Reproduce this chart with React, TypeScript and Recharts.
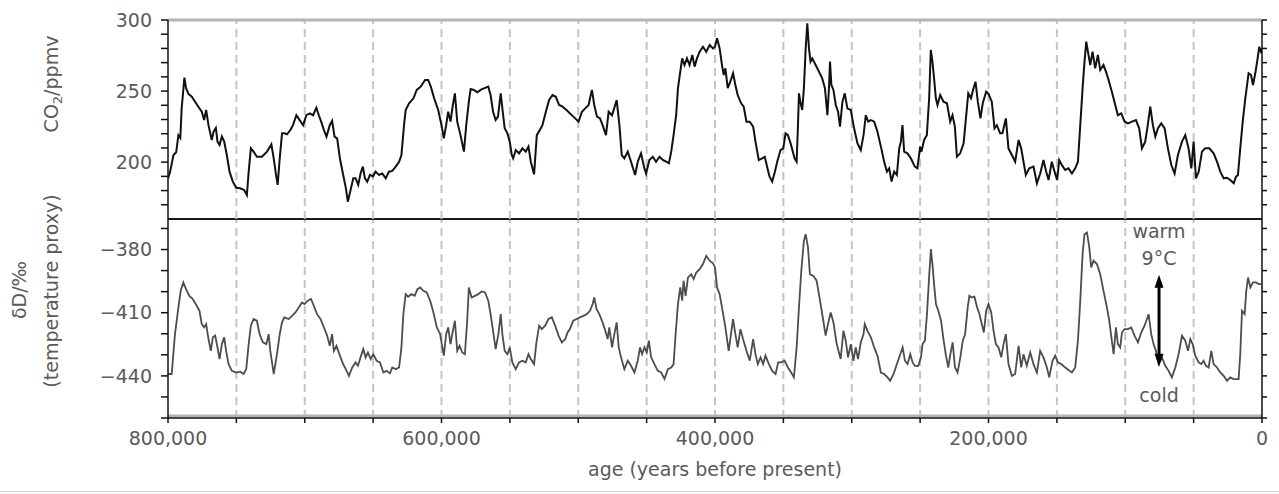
import React from 'react'
import { LineChart, Line, XAxis, YAxis, ReferenceLine } from 'recharts'

// EPICA Dome C: CO2 and deuterium over the last 800 kyr
const co2Age = [
  800, 798.5, 796, 794, 792.4, 791, 790, 788, 786.8, 785, 782.6, 780.2, 777.8, 775.3, 773.6, 772.1, 770.4, 768, 766.7, 765,
  763.8, 762.3, 760.6, 758.9, 757, 755, 752.6, 750.1, 747.2, 744.3, 742.3, 741, 739.4, 737.4, 735, 731.3, 727.6, 724.4, 722.7, 721,
  719.8, 718.3, 716.6, 714.9, 713, 710.5, 708.6, 706.1, 703.7, 701.2, 698.8, 696.3, 693.9, 691.5, 689.7, 688, 686, 684.1, 681.7, 680,
  678.2, 676.3, 674.3, 671.9, 669.9, 668.5, 666.5, 664.5, 662.8, 660.9, 659.2, 657.5, 656, 654.3, 652.3, 650.1, 648.2, 645.7, 643.3, 640.8,
  638.4, 636, 633.5, 631, 629.3, 627.4, 626.2, 623.7, 620.5, 618.1, 615.2, 612, 609.8, 607.8, 605.4, 602.4, 600, 598.3, 596.6, 595.1,
  593.4, 591.7, 590.2, 588.5, 586.1, 583.6, 581.9, 580, 578.7, 576.3, 573.8, 571.4, 569, 565.8, 564.1, 562.3, 560.4, 558.7, 556.7, 555.5,
  553.8, 551.8, 550.1, 548.6, 547.6, 545.7, 543.3, 540.8, 538.4, 536.4, 534.7, 532.3, 530.3, 528.1, 526.2, 523.7, 521.3, 518.8, 516.4, 514,
  511.5, 508.6, 505.4, 502.2, 499.8, 497.3, 494.9, 492.4, 491.4, 490, 488.3, 486.3, 484.1, 482.2, 479.7, 477.8, 475.3, 473.6, 471.9, 469.9,
  468.2, 466.3, 463.8, 461.4, 458.4, 456.5, 454.1, 451.6, 450.4, 448, 445.5, 443.1, 440.6, 438.2, 435.7, 433.7, 432, 430.3, 428.4, 427.1,
  425.4, 424, 422.3, 420.5, 418.6, 416.6, 414.9, 413.2, 411.2, 408.8, 406.4, 403.9, 401.5, 400, 398.5, 396.6, 394.9, 393.6, 392.4, 390.7,
  388.8, 386.8, 385.1, 383.4, 380.9, 379, 377, 374.6, 372.1, 370.4, 368, 365.5, 363.6, 361.9, 360.1, 358.2, 356.2, 354.5, 352.1, 350.1,
  348.4, 346.7, 344.7, 341.8, 340.3, 339.4, 338.6, 337.4, 336.2, 335, 333.7, 332.5, 331.3, 330.1, 328.9, 326.4, 324, 321.6, 319.6, 317.8,
  316.6, 315.9, 314.9, 313.4, 311.7, 310, 308.6, 306.8, 305.1, 303.2, 300.7, 298.3, 295.8, 293.4, 291.4, 289.7, 288, 286, 283.6, 281.2,
  278.7, 276.3, 274.3, 272.6, 270.9, 269, 267, 265.3, 264.1, 262.9, 261.7, 259.3, 256.8, 253.9, 252, 250, 249, 247.1, 245.1, 243.4,
  242.2, 241, 239.8, 238.5, 237.3, 235.3, 232.9, 230.4, 228, 226.3, 224.6, 223.1, 220.7, 218.2, 216.5, 214.8, 212.8, 211.3, 209.5, 207.8,
  205.9, 204.2, 201.7, 200, 197.6, 195.6, 193.9, 191.5, 189.8, 187.3, 185.4, 182.9, 180.5, 178, 176.1, 174.4, 172.7, 170.2, 167.1, 164.6,
  162.2, 159.8, 157.8, 156.1, 153.7, 151.7, 149.8, 148.3, 146.3, 143.9, 141.5, 139, 136.6, 134.6, 132.9, 131.2, 129.8, 128.5, 127.3, 125.6,
  123.9, 122, 120, 118.3, 115.9, 114.1, 112.2, 109.8, 107.3, 105.4, 102.9, 100.5, 98, 95.1, 92.2, 89.8, 87.8, 85.4, 83.7, 81.7,
  79.8, 78, 76.1, 73.7, 71.2, 68.8, 66.3, 63.9, 61.5, 58.5, 56.1, 53.7, 51.7, 50, 48.3, 46.3, 43.9, 41.5, 38.5, 35.4,
  32.9, 30.5, 28, 25.6, 23.2, 20.7, 19, 17.6, 15.9, 14.1, 12.2, 9.8, 8, 6.6, 4.9, 3.2, 2, 0.5, 0,
]
const co2Ppmv = [
  188.6, 193, 205, 207, 219, 217, 238, 259.4, 252, 248, 246, 242.5, 239, 235.5, 229.6, 236.7, 226, 215.6, 221.4, 224,
  214.4, 212, 218, 214.4, 205, 193.3, 186.3, 182, 181.6, 180.4, 176.9, 193.3, 209.7, 207.4, 203.8, 203.8, 207.4, 212.5, 202.7, 191,
  184, 202.7, 220.3, 220.3, 219.6, 222.6, 226, 233, 229.6, 226, 233, 234.3, 233, 238.3, 233, 228.5, 222.6, 218, 226, 229,
  218, 216.7, 202.7, 191, 181.6, 172.2, 180.4, 188.6, 188.6, 184, 192, 196.8, 188.6, 186.3, 191, 190, 193.3, 191, 192, 188.6,
  193.3, 193.8, 196.8, 200.3, 205, 226, 236.7, 241.4, 244.9, 250.8, 253.1, 257.8, 257.8, 253.1, 244.9, 236.7, 226, 216.7, 226, 235.5,
  228.5, 240.2, 248.4, 228.5, 219, 207.4, 226, 242.5, 251.5, 250.8, 249.1, 250.8, 251.9, 253.1, 247.2, 235.5, 229.6, 232, 248.4, 237.8,
  223.8, 220.3, 214.4, 205, 202.7, 208.5, 206.2, 209.7, 207.4, 210.9, 200.3, 191.4, 219, 222.6, 226, 235.5, 243.7, 247.2, 246, 240.2,
  239, 236.7, 233.6, 230.8, 228.5, 235.5, 237.8, 240.2, 244.9, 250.8, 240.2, 232, 230.8, 226, 219, 235.5, 233, 238.3, 243.7, 226,
  205, 202.7, 207.4, 200.3, 191, 200.3, 206.2, 195.6, 192, 201.5, 203.8, 200.3, 203.8, 201.5, 200.3, 199.2, 207.4, 219, 233, 251.9,
  263.7, 273, 268.3, 273, 268.3, 275.4, 267.2, 273, 277.7, 281.2, 277.7, 282.4, 280, 281.2, 287.1, 280, 268.3, 261.3, 266, 252,
  256.6, 262.5, 254.3, 247.2, 241.4, 239, 228.5, 228.5, 225, 214.4, 201.5, 202.7, 203.8, 196.8, 189.8, 186.3, 193.3, 200.3, 208.5, 209.7,
  220.3, 219, 213.2, 202.7, 200.3, 223.8, 248.4, 241.4, 236.7, 251.9, 280, 297.7, 280, 270.7, 273, 268.3, 263.7, 259, 251.9, 233,
  253.1, 270.7, 254.3, 250.8, 240.2, 235.5, 225, 242.5, 248.4, 237.8, 236.7, 223.8, 213.2, 208.5, 219, 233, 228.5, 229.6, 228.5, 221.4,
  210.9, 200.3, 193.3, 195.6, 186.3, 193.3, 191, 209.7, 214.4, 226, 207.4, 206.2, 202.7, 196.8, 195.6, 210.9, 207.4, 215.6, 219, 244.9,
  278.9, 270.7, 259, 244.9, 240.2, 247.2, 242.5, 241.4, 228.5, 233, 225, 203.8, 206.2, 213.2, 230.8, 248.4, 244.9, 250.8, 256.6, 242.5,
  230.8, 241.4, 249.6, 248, 242.5, 223.8, 226, 220.3, 220.3, 230.8, 209.7, 205, 200.3, 215.6, 209.7, 200.3, 191, 195.6, 196.8, 185.1,
  192, 201.5, 193.3, 187.4, 200.3, 193.3, 187.4, 201.5, 197.9, 194.5, 195.6, 192, 195.6, 200.3, 226, 251.9, 270.7, 284.8, 277.7, 268.3,
  277.7, 266, 275.4, 264.8, 268.3, 263.7, 257.8, 249.6, 240.2, 233, 234.3, 228.5, 227.3, 228.5, 229.6, 223.8, 209.7, 214.4, 225, 239,
  226, 218, 223.8, 227.3, 223.8, 209.7, 198, 192, 205, 214.4, 219, 209.7, 195.6, 214.4, 188.6, 193.3, 207.4, 209.7, 209.7, 206.2,
  200.3, 193.3, 188.6, 189, 187.4, 185.1, 189.8, 191, 209.7, 228.5, 244.9, 262.5, 261.3, 254.3, 262.5, 273, 281.2, 276.6, 280,
]

const dDAge = [
  800, 797.3, 794.9, 792.4, 790.7, 788.8, 786.8, 784.4, 781.9, 779, 777, 775.3, 773.6, 772.1, 770.4, 768.7, 767.2, 765.5, 763.8, 762.3,
  760.6, 758.9, 757.5, 755.7, 753.3, 750.1, 747.2, 744.7, 742.8, 741, 739.4, 737.4, 735, 733, 730.6, 728.1, 726.4, 725.2, 722.7, 720.3,
  718.3, 716.6, 714.9, 711.7, 709.3, 706.8, 704.4, 702, 700.2, 697.8, 695.4, 693.4, 691, 688.5, 686, 683.6, 681.7, 680, 678.7, 676.8,
  674.3, 671.9, 669.4, 667.7, 665.3, 662.8, 661.1, 659.2, 657.2, 655.5, 653.8, 651.8, 649.9, 647.4, 645, 642.5, 640.1, 637.7, 636, 633.5,
  631, 629.3, 627.9, 626.2, 624.4, 622, 619.6, 617.6, 615.6, 613.2, 610.8, 608.3, 605.9, 603.4, 601, 600, 598.3, 596.6, 595.1, 593.4,
  591.7, 590.2, 588.5, 586.8, 584.8, 582.9, 581.2, 580, 578, 575.6, 573.1, 570.7, 568.2, 565.8, 564.1, 562.3, 560.4, 558.4, 556.7, 555.5,
  553.8, 551.8, 550.1, 548.2, 545.7, 543.3, 540.8, 538.4, 536.4, 534.7, 532.3, 530.6, 528.6, 526.7, 524.2, 521.8, 519.3, 516.9, 514.4, 512,
  509.5, 507.8, 506.1, 503.7, 501.2, 498.8, 496.3, 493.9, 491.4, 489.5, 488.3, 486.6, 484.6, 482.2, 480.2, 478.5, 477.3, 475.3, 473.6, 471.9,
  470.4, 468.7, 466.3, 463.8, 461.4, 458.9, 456.5, 454.8, 453.3, 451.6, 449.9, 448.4, 446.7, 444.3, 441.8, 439.4, 436.9, 434.5, 432, 430.3,
  428.8, 427.1, 425.4, 424, 423, 421.5, 419.8, 417.4, 415.6, 413.7, 411.2, 408.8, 406.4, 403.9, 401.5, 400, 398.5, 396.6, 394.9, 392.4,
  390, 388.3, 386.8, 385.1, 383.4, 381.4, 379.5, 377, 374.6, 372.1, 370.4, 368.7, 366.7, 364.8, 363.1, 360.6, 358.2, 355.7, 353.8, 351.6,
  349.1, 346.7, 344.3, 342.3, 340.3, 338.6, 336.9, 335, 333.7, 332, 330.6, 328.1, 325.7, 323.2, 320.8, 319.1, 317.4, 315.4, 313.4, 311,
  308.1, 306.1, 304.4, 302.7, 300.7, 298.8, 297.1, 295.4, 293.4, 291.4, 290.5, 288.5, 286, 283.6, 281.2, 278.7, 276.3, 273.8, 271.9, 269.4,
  267, 264.5, 262.8, 261.1, 259.2, 257.2, 255.5, 253.8, 251.3, 249.4, 248.2, 246.5, 245, 243.3, 242.1, 240.8, 239.6, 238.4, 236.7, 234.7,
  232.8, 231.1, 229.4, 227.9, 226.2, 224.5, 222.6, 220.6, 218.8, 217.1, 215.2, 214, 212.2, 210.3, 208.3, 206.6, 204.9, 203.4, 201.7, 200,
  198, 196.3, 194.6, 192.7, 190.7, 189, 187.3, 185.4, 182.9, 180.5, 178, 176.1, 174.4, 172, 169.5, 167.1, 164.6, 162.2, 159.8, 157.3,
  155.6, 153.2, 151.2, 149.3, 146.8, 143.9, 141.5, 139, 136.6, 134.6, 132.9, 131.2, 129.8, 128, 126.3, 124.9, 123.2, 120.7, 118.3, 115.9,
  113.4, 111.7, 109.8, 108.5, 106.8, 105.4, 103.7, 102.4, 100.5, 98, 95.6, 93.2, 90.7, 88.3, 85.9, 82.9, 81, 79.3, 77.6, 75.6,
  73.2, 70.7, 68.3, 65.9, 63.4, 61, 58.5, 56.1, 54.1, 52.4, 50.7, 48.8, 46.3, 44.4, 42.7, 41, 39, 37.1, 35.4, 32.9,
  30.5, 28, 25.6, 23.2, 20.7, 17.1, 15.9, 14.6, 12.7, 11.5, 10.2, 8.5, 6.6, 4.4, 2.4, 0.5,
]
const dDValue = [
  -439.1, -439.1, -420.2, -407.5, -399.6, -395.6, -398.8, -402, -403.5, -406.7, -409.1, -415.4, -417, -415.4, -422.5, -428.1, -421.7, -420.9, -426.5, -432,
  -424.9, -421.7, -428.1, -434.4, -437.6, -438.4, -438, -439.1, -436.8, -424.9, -416.2, -413, -413.8, -420.2, -424.1, -424.9, -420.2, -428.1, -439.1, -429.7,
  -420.2, -414.6, -412.2, -413, -411.5, -409.9, -407.5, -405.1, -405.9, -404.3, -403.5, -406.7, -410.7, -413, -417, -420.9, -425.7, -420.2, -428.1, -425.7,
  -430.4, -434.4, -437.6, -440, -436, -433.6, -435.2, -431.2, -427.3, -431.2, -428.9, -432, -429.7, -432.8, -433.6, -438.4, -437.6, -438.8, -436, -436.8,
  -436, -426.5, -410.7, -401.2, -402.4, -401.2, -402, -398.8, -398, -399.6, -400.4, -404.3, -409.9, -417, -420.2, -424.1, -430.4, -420.2, -417, -424.9,
  -418.6, -413.8, -428.1, -425.7, -428.9, -429.7, -413.8, -398, -402.8, -402, -401.2, -399.9, -400.4, -404.3, -410.7, -418.6, -427.3, -420.2, -410.7, -420.2,
  -428.1, -429.7, -426.5, -433.6, -436.8, -433.6, -432.8, -433.6, -429.7, -432, -434.4, -424.1, -416.2, -417.8, -416.2, -413, -412.2, -416.2, -420.9, -424.1,
  -422.5, -419.4, -417.8, -413.8, -413, -412.2, -411.5, -410.7, -409.1, -405.9, -402.8, -408.3, -410.7, -414.6, -418.6, -422.5, -417, -426.5, -420.2, -414.6,
  -426.5, -431.2, -436.8, -432.8, -435.2, -438.4, -432.8, -426.5, -429.7, -426.5, -428.9, -423.3, -431.2, -434.4, -437.6, -438.4, -441.5, -436.8, -436, -434.4,
  -420.2, -405.9, -398, -404.3, -394.8, -402, -393.3, -391.7, -394, -390.9, -389.3, -386.9, -383, -385.3, -386.5, -388.5, -398, -401.2, -407.5, -417,
  -428.1, -420.2, -413, -420.2, -426.5, -417.8, -422.5, -428.1, -432.8, -422.5, -429.7, -434.4, -431.2, -434.4, -430.4, -434.4, -437.6, -439.1, -433.6, -433.6,
  -432.8, -436, -438.4, -440.7, -426.5, -407.5, -390.1, -375.9, -372.7, -379, -391.7, -392.5, -394.8, -404.3, -413.8, -420.9, -415.4, -409.9, -414.6, -424.9,
  -432, -418.6, -423.3, -431.2, -424.9, -432.8, -426.5, -432, -424.1, -420.2, -415.4, -418.6, -421.7, -426.5, -430.4, -438.4, -439.1, -440.7, -442.3, -439.1,
  -434.4, -429.7, -426.5, -432.8, -434.4, -429.7, -433.6, -435.2, -435.2, -431.2, -424.9, -423.3, -410.7, -391.7, -379.8, -388.5, -398, -405.9, -409.1, -413.8,
  -423.3, -430.4, -436, -429.7, -424.1, -436, -438.4, -431.2, -423.3, -420.2, -407.5, -402, -402.8, -402.4, -407.5, -410.7, -415.4, -419.4, -409.1, -405.9,
  -409.9, -418.6, -424.9, -426.5, -431.2, -424.9, -420.2, -434.4, -440, -439.1, -425.7, -436, -429.7, -435.2, -428.9, -434.4, -438.4, -428.1, -431.2, -436,
  -440.7, -432.8, -430.4, -433.6, -434.4, -436, -437.2, -438.4, -436, -423.3, -404.3, -382.2, -372.7, -371.9, -379, -388.5, -385.3, -386.9, -391.7, -399.6,
  -407.5, -413.8, -423.3, -429.7, -417, -424.9, -426.5, -419.4, -417.8, -417.8, -417, -420.9, -424.1, -419.4, -416.2, -410.7, -420.2, -424.9, -428.1, -434.4,
  -431.2, -435.2, -437.6, -440.7, -436, -429.7, -420.9, -423.3, -428.1, -422.5, -424.9, -430.4, -433.6, -434.4, -432.8, -435.2, -436, -428.1, -434.4, -436,
  -438.4, -440, -442.3, -440.7, -441.5, -441.5, -429.7, -409.1, -410.7, -399.6, -393.3, -398, -395.6, -395.6, -396.4, -396.4,
]

// axis ticks (kyr) and which of them carry a label
const xTicks = [0, 50, 100, 150, 200, 250, 300, 350, 400, 450, 500, 550, 600, 650, 700, 750, 800]
const xLabelled = [0, 200, 400, 600, 800]
const gridAges = [50, 100, 150, 200, 250, 300, 350, 400, 450, 500, 550, 600, 650, 700, 750]
const co2Ticks = [170, 180, 190, 200, 210, 220, 230, 240, 250, 260, 270, 280, 290, 300]
const co2Labelled = [200, 250, 300]
const dDTicks = [-460, -450, -440, -430, -420, -410, -400, -390, -380, -370]
const dDLabelled = [-380, -410, -440]

// the "9°C" warm/cold arrow
const arrowAge = 75.3
const arrowWarm = -392
const arrowCold = -435.7

const FONT = '"DejaVu Sans", sans-serif'
const TEXT = '#5a5a5a'
const W = 1279
const H = 494

const co2Data = co2Age.map((a, i) => ({ age: a, co2: co2Ppmv[i] }))
const dDData = dDAge.map((a, i) => ({ age: a, dD: dDValue[i] }))

const tickStyle = { fill: TEXT, fontSize: 19, fontFamily: FONT }
const axisStroke = { stroke: '#111', strokeWidth: 1.5 }

function WarmColdArrow(props: any) {
  const { x1, y1, y2 } = props
  const top = Math.min(y1, y2)
  const bot = Math.max(y1, y2)
  return (
    <g>
      <line x1={x1} x2={x1} y1={top + 10} y2={bot - 10} stroke="#000" strokeWidth={3} />
      <polygon points={`${x1},${top} ${x1 - 4.5},${top + 13} ${x1 + 4.5},${top + 13}`} fill="#000" />
      <polygon points={`${x1},${bot} ${x1 - 4.5},${bot - 13} ${x1 + 4.5},${bot - 13}`} fill="#000" />
      <text x={x1} y={top - 37} textAnchor="middle" fill={TEXT} fontSize={19} fontFamily={FONT}>warm</text>
      <text x={x1} y={top - 10} textAnchor="middle" fill={TEXT} fontSize={19} fontFamily={FONT}>9°C</text>
      <text x={x1} y={bot + 35} textAnchor="middle" fill={TEXT} fontSize={19} fontFamily={FONT}>cold</text>
    </g>
  )
}

export default function App() {
  return (
    <div style={{ position: 'absolute', left: 0, top: 0, width: W, height: H, background: '#fff', fontFamily: FONT }}>
      {/* lower panel: deuterium, carries the shared age axis */}
      <div style={{ position: 'absolute', left: 0, top: 0 }}>
        <LineChart width={W} height={H} data={dDData} margin={{ top: 219, right: 7, bottom: 16, left: 108 }}>
          <XAxis
            dataKey="age"
            type="number"
            domain={[0, 800]}
            reversed
            allowDataOverflow
            ticks={xTicks}
            interval={0}
            height={60}
            tickFormatter={(v) => (xLabelled.includes(v) ? (v * 1000).toLocaleString('en-US') : '')}
            tick={tickStyle}
            tickSize={5}
            tickMargin={9}
            axisLine={axisStroke}
            tickLine={axisStroke}
            label={{ value: 'age (years before present)', position: 'insideBottom', offset: 2, fill: TEXT, fontSize: 19, fontFamily: FONT }}
          />
          <YAxis
            yAxisId="l"
            width={60}
            domain={[-460, -365.5]}
            allowDataOverflow
            ticks={dDTicks}
            interval={0}
            tickFormatter={(v) => (dDLabelled.includes(v) ? `\u2212${-v}` : '')}
            tick={tickStyle}
            tickSize={7}
            tickMargin={9}
            axisLine={axisStroke}
            tickLine={axisStroke}
            label={{
              content: (p: any) => (
                <g>
                  <text transform={`translate(26, ${p.viewBox.y + 71}) rotate(-90)`} textAnchor="middle" fill={TEXT} fontSize={19} fontFamily={FONT}>
                    δD/‰
                  </text>
                  <text transform={`translate(58, ${p.viewBox.y + 72}) rotate(-90)`} textAnchor="middle" fill={TEXT} fontSize={19} fontFamily={FONT}>
                    (temperature proxy)
                  </text>
                </g>
              ),
            }}
          />
          <YAxis
            yAxisId="r"
            orientation="right"
            width={10}
            domain={[-460, -365.5]}
            allowDataOverflow
            ticks={dDTicks}
            interval={0}
            tickFormatter={() => ''}
            tickSize={5}
            axisLine={axisStroke}
            tickLine={axisStroke}
          />
          {gridAges.map((a) => (
            <ReferenceLine key={a} yAxisId="l" x={a} stroke="#c4c4c4" strokeWidth={2} strokeDasharray="8 5" />
          ))}
          <ReferenceLine yAxisId="l" y={-459} stroke="#b4b4b4" strokeWidth={3} ifOverflow="visible" />
          <Line
            yAxisId="l"
            dataKey="dD"
            type="linear"
            stroke="#4d4d4d"
            strokeWidth={1.8}
            dot={false}
            isAnimationActive={false}
          />
          <ReferenceLine yAxisId="l" y={-365.5} stroke="#1a1a1a" strokeWidth={2.2} ifOverflow="visible" />
          <ReferenceLine
            yAxisId="l"
            segment={[
              { x: arrowAge, y: arrowWarm },
              { x: arrowAge, y: arrowCold },
            ]}
            shape={WarmColdArrow}
          />
        </LineChart>
      </div>
      {/* upper panel: CO2 */}
      <div style={{ position: 'absolute', left: 0, top: 0 }}>
        <LineChart width={W} height={H} data={co2Data} margin={{ top: 20, right: 7, bottom: 275, left: 108 }}>
          <XAxis dataKey="age" type="number" domain={[0, 800]} reversed hide allowDataOverflow />
          <YAxis
            yAxisId="l"
            width={60}
            domain={[160, 300]}
            allowDataOverflow
            ticks={co2Ticks}
            interval={0}
            tickFormatter={(v) => (co2Labelled.includes(v) ? String(v) : '')}
            tick={tickStyle}
            tickSize={7}
            tickMargin={9}
            axisLine={axisStroke}
            tickLine={axisStroke}
            label={{
              content: (p: any) => (
                <text transform={`translate(58, ${p.viewBox.y + 64}) rotate(-90)`} textAnchor="middle" fill={TEXT} fontSize={19} fontFamily={FONT}>
                  CO<tspan dy={4} fontSize={13}>2</tspan><tspan dy={-4}>/ppmv</tspan>
                </text>
              ),
            }}
          />
          <YAxis
            yAxisId="r"
            orientation="right"
            width={10}
            domain={[160, 300]}
            allowDataOverflow
            ticks={co2Ticks}
            interval={0}
            tickFormatter={() => ''}
            tickSize={5}
            axisLine={axisStroke}
            tickLine={axisStroke}
          />
          {gridAges.map((a) => (
            <ReferenceLine key={a} yAxisId="l" x={a} stroke="#c4c4c4" strokeWidth={2} strokeDasharray="8 5" />
          ))}
          <ReferenceLine yAxisId="l" y={300} stroke="#b4b4b4" strokeWidth={3} ifOverflow="visible" />
          <Line
            yAxisId="l"
            dataKey="co2"
            type="linear"
            stroke="#111"
            strokeWidth={2}
            dot={false}
            isAnimationActive={false}
          />
        </LineChart>
      </div>
      <div style={{ position: 'absolute', left: 0, top: 491, width: W, height: 1, background: '#d0d0d0' }} />
    </div>
  )
}
